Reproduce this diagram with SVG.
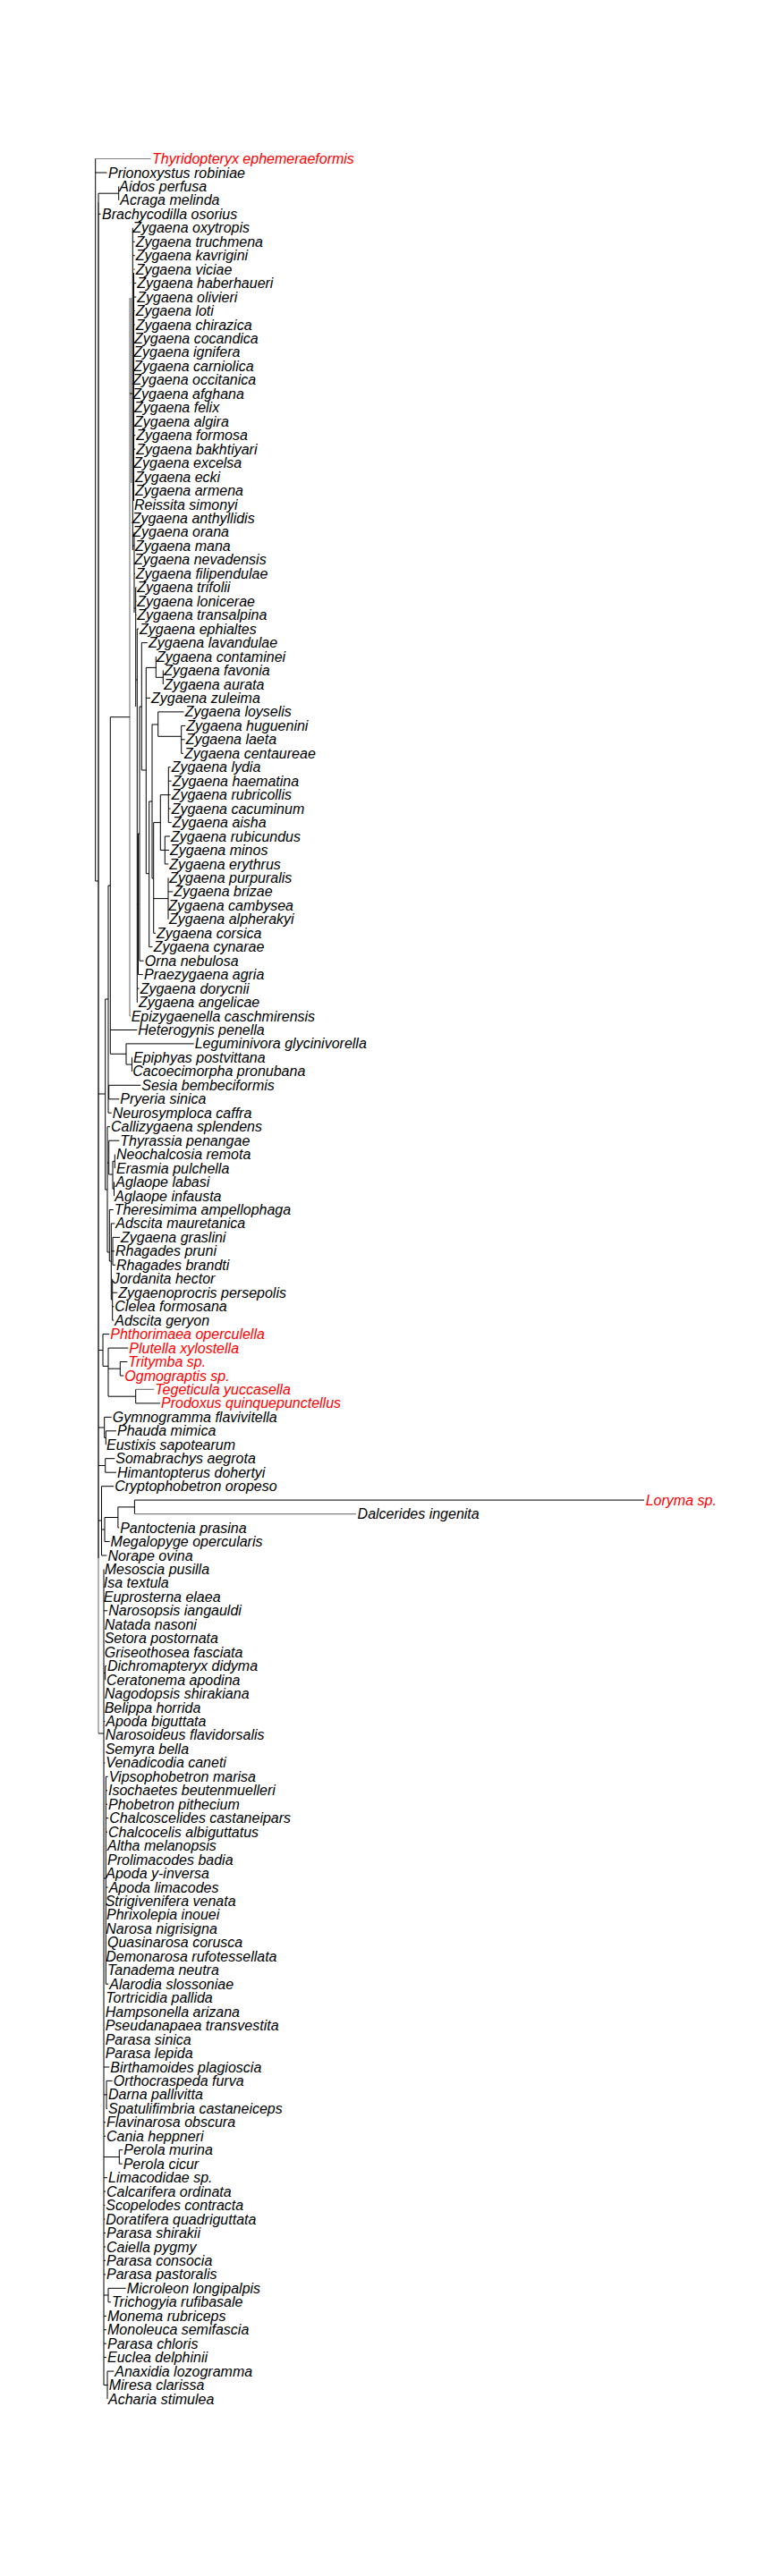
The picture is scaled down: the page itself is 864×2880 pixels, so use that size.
<svg xmlns="http://www.w3.org/2000/svg" width="864" height="2880" viewBox="0 0 864 2880">
<style>
.t{font-family:"Liberation Sans",Arial,sans-serif;font-size:16px;font-style:italic;fill:#000}
.r{fill:#ff0000}
.e{fill:none;stroke:#000;stroke-width:1}
.g{fill:none;stroke:#808080;stroke-width:1.2}
</style>
<rect width="864" height="2880" fill="#fff"/>
<g id="connectors">
<path class="g" d="M106.7 177.5H168.5M145 333V1136M146.7 333V540M110 226V1938M151.7 1553.4H172.3M150.4 1692.6H398"/>
<path class="e" d="M106.7 177.5V985M106.7 193H119.5M106.7 985H110M110 216.2V1742M110 216.2H132.7M132.7 208.4V223.9M110 239.3H112.5
M123.3 801.7H145M145 440H148.3M148.3 254.8V615M149.5 305V560M150 594.9V685M148.3 610H150M151.7 656.8V790M150 680H151.7M153.3 703.1V1120.6M151.7 760H153.3
M148.3 270.3H150.7M148.3 285.7H150.7M149.5 301.2H150.7M149.5 316.6H152.3M149.5 332.1H152.3M149.5 347.6H150.7M149.5 363H150.7M149.5 486.7H151.3M149.5 502.2H151.3M149.5 533.1H150.3M149.5 548.5H150.3M150 610.4H150.3M150 641.3H150.9M151.7 656.8H152.5M151.7 672.2H152.5M151.7 687.7H152.5M153.3 703.1H155
M154.5 932V1089.6M153.3 1011H154.5M154.5 1089.6H159.8M156 790V1074.2M154.5 932H156M156 1074.2H160.5M156 790H158.3M158.3 718.6V861M158.3 718.6H164.8M153.3 1105.1H155.5M153.3 1120.6H153.8M145 1136H145.5
M158.3 861H163.3M163.3 746.4V976.7M163.3 746.4H174.3M174.3 734.1V757.3M174.3 757.3H182.3M182.3 749.5V765M163.3 780.4H168
M163.3 976.7H166.7M166.7 896V1058.7M166.7 1058.7H170.5M166.7 896H170M170 810V982
M170 810H176.7M176.7 795.9V823.3M176.7 795.9H205.5M176.7 823.3H202.7M202.7 811.4V842.3M202.7 811.4H207.3M202.7 826.8H206.7M202.7 842.3H205
M170 982H171.7M171.7 919.6V1043.3M171.7 1043.3H174M171.7 919.6H179.3M179.3 888.7V950.5
M179.3 888.7H188.3M188.3 857.7V919.6M188.3 857.7H190.7M188.3 873.2H191.7M188.3 888.7H190.7M188.3 904.1H190.7M188.3 919.6H191.7
M179.3 950.5H184.3M184.3 935V966M184.3 935H190M184.3 950.5H189M184.3 966H188.3
M171.7 1004.6H188M188 981.4V1027.8M188 996.9H193.3
M123.3 801.7V1178.3M123.3 1151.5H153.3M123.3 1178.3H141M141 1166.9V1190.1M141 1166.9H216.7M141 1190.1H147.5M147.5 1182.4V1197.9M147.5 1182.4H148
M121 990H123.3M121 990V1244.2M121 1244.2H124.7M121 1221H121.7M121.7 1213.3V1228.8M121.7 1213.3H157.3M121.7 1228.8H133.3
M117.7 1117H121M117.7 1117V1330M110 1223H117.7
M117.7 1330H120M120 1259.7V1400M120 1259.7H123M120 1300H121.7M121.7 1275.2V1313M121.7 1275.2H133.3M121.7 1313H126M126 1298.3V1329.2M126 1298.3H128.3M128.3 1290.6V1306.1M126 1329.2H127.5M127.5 1321.5V1337
M120 1400H122.3M122.3 1352.5V1410M122.3 1352.5H126.7M122.3 1410H124.3M124.3 1367.9V1452.9M124.3 1367.9H128.3M124.3 1398.8H126M126 1383.4V1414.3M126 1383.4H134M126 1398.8H128M126 1414.3H129M124.3 1452.9H125.7M125.7 1429.8V1476.1M125.7 1445.2H131.3M125.7 1460.7H127.3M125.7 1476.1H127.3
M110 1509.5H115M115 1491.6V1527.4M115 1491.6H122.3M115 1527.4H121M121 1507.1V1561.2M121 1507.1H143.3M121 1530.2H134.3M134.3 1522.5V1538M134.3 1522.5H142.3M134.3 1538H138.3M121 1561.2H151.7M151.7 1553.4V1568.9M151.7 1568.9H179
M110 1596H116.7M116.7 1584.4V1607.5M116.7 1584.4H124.7M116.7 1607.5H118.3M118.3 1599.8V1615.3M118.3 1599.8H130
M110 1638.5H117.7M117.7 1630.7V1646.2M117.7 1630.7H128.3M117.7 1646.2H130
M110 1700H113.5M113.5 1661.7V1739M113.5 1661.7H127.2M113.5 1739H119.4
M113.5 1710H117M117 1696.5V1723.5M117 1723.5H122.6M117 1696.5H131.9M131.9 1684.9V1708M131.9 1708H133.2M131.9 1684.9H150.4M150.4 1677.1V1692.6M150.4 1677.1H720
M110 1938H116M116 1754.4V2666.6M116 1800.8H120.3M116 1870.4H117.7M117.7 1862.6V1878.1M117.7 1862.6H119M117.7 1878.1H118M116 1924.5H117.3M116 1970.9H117.3
M116 2100H118.3M118.3 1986.3V2218.2M118.3 1986.3H120.7M118.3 2001.8H120M118.3 2017.2H120M118.3 2032.7H121.3M118.3 2048.2H120M118.3 2063.6H119M118.3 2079.1H119M118.3 2110H120.7M118.3 2171.8H119M118.3 2202.8H119M118.3 2218.2H121.3
M116 2311H122.3M116 2341.9H119M119 2326.4V2357.4M119 2326.4H125.7M119 2341.9H120M119 2357.4H120M116 2372.8H118M116 2388.3H118
M116 2411.5H133.3M133.3 2403.7V2419.2M133.3 2403.7H137.3M133.3 2419.2H136.7M116 2434.7H120M116 2450.1H118M116 2465.6H117.3M116 2481H117.3M116 2496.5H118M116 2512H118M116 2527.4H118M116 2542.9H118
M116 2566H121M121 2558.3V2573.8M121 2558.3H140.7M121 2573.8H124M116 2589.3H119M116 2604.7H119M116 2620.2H119M116 2635.6H119
M116 2666.6H120M120 2651.1V2682M120 2651.1H127.3M120 2666.6H120.7"/>
</g>
<g id="n1"><text class="t r" x="170" y="183">Thyridopteryx ephemeraeformis</text></g>
<g id="n2"><text class="t" x="121" y="198.5">Prionoxystus robiniae</text></g>
<g id="n3"><text class="t" x="133.3" y="213.9">Aidos perfusa</text></g>
<g id="n4"><text class="t" x="134.3" y="229.4">Acraga melinda</text></g>
<g id="n5"><text class="t" x="114" y="244.8">Brachycodilla osorius</text></g>
<g id="n6"><text class="t" x="148.3" y="260.3">Zygaena oxytropis</text></g>
<g id="n7"><text class="t" x="151.7" y="275.8">Zygaena truchmena</text></g>
<g id="n8"><text class="t" x="151.7" y="291.2">Zygaena kavrigini</text></g>
<g id="n9"><text class="t" x="151.7" y="306.7">Zygaena viciae</text></g>
<g id="n10"><text class="t" x="153.3" y="322.1">Zygaena haberhaueri</text></g>
<g id="n11"><text class="t" x="153.3" y="337.6">Zygaena olivieri</text></g>
<g id="n12"><text class="t" x="151.7" y="353.1">Zygaena loti</text></g>
<g id="n13"><text class="t" x="151.7" y="368.5">Zygaena chirazica</text></g>
<g id="n14"><text class="t" x="150" y="384">Zygaena cocandica</text></g>
<g id="n15"><text class="t" x="149.3" y="399.4">Zygaena ignifera</text></g>
<g id="n16"><text class="t" x="149.3" y="414.9">Zygaena carniolica</text></g>
<g id="n17"><text class="t" x="148.3" y="430.4">Zygaena occitanica</text></g>
<g id="n18"><text class="t" x="148.3" y="445.8">Zygaena afghana</text></g>
<g id="n19"><text class="t" x="150" y="461.3">Zygaena felix</text></g>
<g id="n20"><text class="t" x="150" y="476.7">Zygaena algira</text></g>
<g id="n21"><text class="t" x="152.3" y="492.2">Zygaena formosa</text></g>
<g id="n22"><text class="t" x="152.3" y="507.7">Zygaena bakhtiyari</text></g>
<g id="n23"><text class="t" x="149.3" y="523.1">Zygaena excelsa</text></g>
<g id="n24"><text class="t" x="151" y="538.6">Zygaena ecki</text></g>
<g id="n25"><text class="t" x="151" y="554">Zygaena armena</text></g>
<g id="n26"><text class="t" x="150" y="569.5">Reissita simonyi</text></g>
<g id="n27"><text class="t" x="147.7" y="585">Zygaena anthyllidis</text></g>
<g id="n28"><text class="t" x="148.3" y="600.4">Zygaena orana</text></g>
<g id="n29"><text class="t" x="151" y="615.9">Zygaena mana</text></g>
<g id="n30"><text class="t" x="150" y="631.3">Zygaena nevadensis</text></g>
<g id="n31"><text class="t" x="151.7" y="646.8">Zygaena filipendulae</text></g>
<g id="n32"><text class="t" x="153.3" y="662.3">Zygaena trifolii</text></g>
<g id="n33"><text class="t" x="153.3" y="677.7">Zygaena lonicerae</text></g>
<g id="n34"><text class="t" x="153.3" y="693.2">Zygaena transalpina</text></g>
<g id="n35"><text class="t" x="156" y="708.6">Zygaena ephialtes</text></g>
<g id="n36"><text class="t" x="166" y="724.1">Zygaena lavandulae</text></g>
<g id="n37"><text class="t" x="175" y="739.6">Zygaena contaminei</text></g>
<g id="n38"><text class="t" x="183.3" y="755">Zygaena favonia</text></g>
<g id="n39"><text class="t" x="183.3" y="770.5">Zygaena aurata</text></g>
<g id="n40"><text class="t" x="169" y="785.9">Zygaena zuleima</text></g>
<g id="n41"><text class="t" x="206.7" y="801.4">Zygaena loyselis</text></g>
<g id="n42"><text class="t" x="208.3" y="816.9">Zygaena huguenini</text></g>
<g id="n43"><text class="t" x="207.7" y="832.3">Zygaena laeta</text></g>
<g id="n44"><text class="t" x="206" y="847.8">Zygaena centaureae</text></g>
<g id="n45"><text class="t" x="191.7" y="863.2">Zygaena lydia</text></g>
<g id="n46"><text class="t" x="192.7" y="878.7">Zygaena haematina</text></g>
<g id="n47"><text class="t" x="191.7" y="894.2">Zygaena rubricollis</text></g>
<g id="n48"><text class="t" x="191.7" y="909.6">Zygaena cacuminum</text></g>
<g id="n49"><text class="t" x="192.7" y="925.1">Zygaena aisha</text></g>
<g id="n50"><text class="t" x="191" y="940.5">Zygaena rubicundus</text></g>
<g id="n51"><text class="t" x="190" y="956">Zygaena minos</text></g>
<g id="n52"><text class="t" x="189.3" y="971.5">Zygaena erythrus</text></g>
<g id="n53"><text class="t" x="189.3" y="986.9">Zygaena purpuralis</text></g>
<g id="n54"><text class="t" x="194.3" y="1002.4">Zygaena brizae</text></g>
<g id="n55"><text class="t" x="188.3" y="1017.8">Zygaena cambysea</text></g>
<g id="n56"><text class="t" x="189" y="1033.3">Zygaena alpherakyi</text></g>
<g id="n57"><text class="t" x="175" y="1048.8">Zygaena corsica</text></g>
<g id="n58"><text class="t" x="171.7" y="1064.2">Zygaena cynarae</text></g>
<g id="n59"><text class="t" x="161.7" y="1079.7">Orna nebulosa</text></g>
<g id="n60"><text class="t" x="161" y="1095.1">Praezygaena agria</text></g>
<g id="n61"><text class="t" x="156.7" y="1110.6">Zygaena dorycnii</text></g>
<g id="n62"><text class="t" x="155" y="1126.1">Zygaena angelicae</text></g>
<g id="n63"><text class="t" x="146.7" y="1141.5">Epizygaenella caschmirensis</text></g>
<g id="n64"><text class="t" x="154.3" y="1157">Heterogynis penella</text></g>
<g id="n65"><text class="t" x="217.7" y="1172.4">Leguminivora glycinivorella</text></g>
<g id="n66"><text class="t" x="149" y="1187.9">Epiphyas postvittana</text></g>
<g id="n67"><text class="t" x="148.3" y="1203.4">Cacoecimorpha pronubana</text></g>
<g id="n68"><text class="t" x="158.3" y="1218.8">Sesia bembeciformis</text></g>
<g id="n69"><text class="t" x="134.3" y="1234.3">Pryeria sinica</text></g>
<g id="n70"><text class="t" x="125.7" y="1249.7">Neurosymploca caffra</text></g>
<g id="n71"><text class="t" x="124" y="1265.2">Callizygaena splendens</text></g>
<g id="n72"><text class="t" x="134.3" y="1280.7">Thyrassia penangae</text></g>
<g id="n73"><text class="t" x="130" y="1296.1">Neochalcosia remota</text></g>
<g id="n74"><text class="t" x="130" y="1311.6">Erasmia pulchella</text></g>
<g id="n75"><text class="t" x="129.3" y="1327">Aglaope labasi</text></g>
<g id="n76"><text class="t" x="128.3" y="1342.5">Aglaope infausta</text></g>
<g id="n77"><text class="t" x="127.7" y="1358">Theresimima ampellophaga</text></g>
<g id="n78"><text class="t" x="129.3" y="1373.4">Adscita mauretanica</text></g>
<g id="n79"><text class="t" x="135" y="1388.9">Zygaena graslini</text></g>
<g id="n80"><text class="t" x="129" y="1404.3">Rhagades pruni</text></g>
<g id="n81"><text class="t" x="130" y="1419.8">Rhagades brandti</text></g>
<g id="n82"><text class="t" x="125.7" y="1435.3">Jordanita hector</text></g>
<g id="n83"><text class="t" x="132.3" y="1450.7">Zygaenoprocris persepolis</text></g>
<g id="n84"><text class="t" x="128.3" y="1466.2">Clelea formosana</text></g>
<g id="n85"><text class="t" x="128.3" y="1481.6">Adscita geryon</text></g>
<g id="n86"><text class="t r" x="123.3" y="1497.1">Phthorimaea operculella</text></g>
<g id="n87"><text class="t r" x="144.3" y="1512.6">Plutella xylostella</text></g>
<g id="n88"><text class="t r" x="143.3" y="1528">Tritymba sp.</text></g>
<g id="n89"><text class="t r" x="139.3" y="1543.5">Ogmograptis sp.</text></g>
<g id="n90"><text class="t r" x="173.3" y="1558.9">Tegeticula yuccasella</text></g>
<g id="n91"><text class="t r" x="180" y="1574.4">Prodoxus quinquepunctellus</text></g>
<g id="n92"><text class="t" x="125.7" y="1589.9">Gymnogramma flavivitella</text></g>
<g id="n93"><text class="t" x="131" y="1605.3">Phauda mimica</text></g>
<g id="n94"><text class="t" x="119" y="1620.8">Eustixis sapotearum</text></g>
<g id="n95"><text class="t" x="129.3" y="1636.2">Somabrachys aegrota</text></g>
<g id="n96"><text class="t" x="131" y="1651.7">Himantopterus dohertyi</text></g>
<g id="n97"><text class="t" x="128.2" y="1667.2">Cryptophobetron oropeso</text></g>
<g id="n98"><text class="t r" x="721.7" y="1682.6">Loryma sp.</text></g>
<g id="n99"><text class="t" x="399.6" y="1698.1">Dalcerides ingenita</text></g>
<g id="n100"><text class="t" x="134.2" y="1713.5">Pantoctenia prasina</text></g>
<g id="n101"><text class="t" x="123.6" y="1729">Megalopyge opercularis</text></g>
<g id="n102"><text class="t" x="120.4" y="1744.5">Norape ovina</text></g>
<g id="n103"><text class="t" x="116.7" y="1759.9">Mesoscia pusilla</text></g>
<g id="n104"><text class="t" x="115.8" y="1775.4">Isa textula</text></g>
<g id="n105"><text class="t" x="115.8" y="1790.8">Euprosterna elaea</text></g>
<g id="n106"><text class="t" x="121.3" y="1806.3">Narosopsis iangauldi</text></g>
<g id="n107"><text class="t" x="116.7" y="1821.8">Natada nasoni</text></g>
<g id="n108"><text class="t" x="116.7" y="1837.2">Setora postornata</text></g>
<g id="n109"><text class="t" x="116.7" y="1852.7">Griseothosea fasciata</text></g>
<g id="n110"><text class="t" x="120" y="1868.1">Dichromapteryx didyma</text></g>
<g id="n111"><text class="t" x="119" y="1883.6">Ceratonema apodina</text></g>
<g id="n112"><text class="t" x="116.7" y="1899.1">Nagodopsis shirakiana</text></g>
<g id="n113"><text class="t" x="116.7" y="1914.5">Belippa horrida</text></g>
<g id="n114"><text class="t" x="118.3" y="1930">Apoda biguttata</text></g>
<g id="n115"><text class="t" x="117.7" y="1945.4">Narosoideus flavidorsalis</text></g>
<g id="n116"><text class="t" x="117.7" y="1960.9">Semyra bella</text></g>
<g id="n117"><text class="t" x="118.3" y="1976.4">Venadicodia caneti</text></g>
<g id="n118"><text class="t" x="121.7" y="1991.8">Vipsophobetron marisa</text></g>
<g id="n119"><text class="t" x="121" y="2007.3">Isochaetes beutenmuelleri</text></g>
<g id="n120"><text class="t" x="121" y="2022.7">Phobetron pithecium</text></g>
<g id="n121"><text class="t" x="122.3" y="2038.2">Chalcoscelides castaneipars</text></g>
<g id="n122"><text class="t" x="121" y="2053.7">Chalcocelis albiguttatus</text></g>
<g id="n123"><text class="t" x="120" y="2069.1">Altha melanopsis</text></g>
<g id="n124"><text class="t" x="120" y="2084.6">Prolimacodes badia</text></g>
<g id="n125"><text class="t" x="118.3" y="2100">Apoda y-inversa</text></g>
<g id="n126"><text class="t" x="121.7" y="2115.5">Apoda limacodes</text></g>
<g id="n127"><text class="t" x="117.7" y="2131">Strigivenifera venata</text></g>
<g id="n128"><text class="t" x="119" y="2146.4">Phrixolepia inouei</text></g>
<g id="n129"><text class="t" x="118.3" y="2161.9">Narosa nigrisigna</text></g>
<g id="n130"><text class="t" x="120" y="2177.3">Quasinarosa corusca</text></g>
<g id="n131"><text class="t" x="118.3" y="2192.8">Demonarosa rufotessellata</text></g>
<g id="n132"><text class="t" x="120" y="2208.3">Tanadema neutra</text></g>
<g id="n133"><text class="t" x="122.3" y="2223.7">Alarodia slossoniae</text></g>
<g id="n134"><text class="t" x="118.3" y="2239.2">Tortricidia pallida</text></g>
<g id="n135"><text class="t" x="117.7" y="2254.6">Hampsonella arizana</text></g>
<g id="n136"><text class="t" x="117.7" y="2270.1">Pseudanapaea transvestita</text></g>
<g id="n137"><text class="t" x="117.7" y="2285.6">Parasa sinica</text></g>
<g id="n138"><text class="t" x="117.7" y="2301">Parasa lepida</text></g>
<g id="n139"><text class="t" x="123.3" y="2316.5">Birthamoides plagioscia</text></g>
<g id="n140"><text class="t" x="126.7" y="2331.9">Orthocraspeda furva</text></g>
<g id="n141"><text class="t" x="121" y="2347.4">Darna pallivitta</text></g>
<g id="n142"><text class="t" x="121" y="2362.9">Spatulifimbria castaneiceps</text></g>
<g id="n143"><text class="t" x="119" y="2378.3">Flavinarosa obscura</text></g>
<g id="n144"><text class="t" x="119" y="2393.8">Cania heppneri</text></g>
<g id="n145"><text class="t" x="138.3" y="2409.2">Perola murina</text></g>
<g id="n146"><text class="t" x="137.7" y="2424.7">Perola cicur</text></g>
<g id="n147"><text class="t" x="121" y="2440.2">Limacodidae sp.</text></g>
<g id="n148"><text class="t" x="119" y="2455.6">Calcarifera ordinata</text></g>
<g id="n149"><text class="t" x="118.3" y="2471.1">Scopelodes contracta</text></g>
<g id="n150"><text class="t" x="118.3" y="2486.5">Doratifera quadriguttata</text></g>
<g id="n151"><text class="t" x="119" y="2502">Parasa shirakii</text></g>
<g id="n152"><text class="t" x="119" y="2517.5">Caiella pygmy</text></g>
<g id="n153"><text class="t" x="119" y="2532.9">Parasa consocia</text></g>
<g id="n154"><text class="t" x="119" y="2548.4">Parasa pastoralis</text></g>
<g id="n155"><text class="t" x="141.7" y="2563.8">Microleon longipalpis</text></g>
<g id="n156"><text class="t" x="125" y="2579.3">Trichogyia rufibasale</text></g>
<g id="n157"><text class="t" x="120" y="2594.8">Monema rubriceps</text></g>
<g id="n158"><text class="t" x="120" y="2610.2">Monoleuca semifascia</text></g>
<g id="n159"><text class="t" x="120" y="2625.7">Parasa chloris</text></g>
<g id="n160"><text class="t" x="120" y="2641.1">Euclea delphinii</text></g>
<g id="n161"><text class="t" x="128.3" y="2656.6">Anaxidia lozogramma</text></g>
<g id="n162"><text class="t" x="121.7" y="2672.1">Miresa clarissa</text></g>
<g id="n163"><text class="t" x="121" y="2687.5">Acharia stimulea</text></g>
</svg>
